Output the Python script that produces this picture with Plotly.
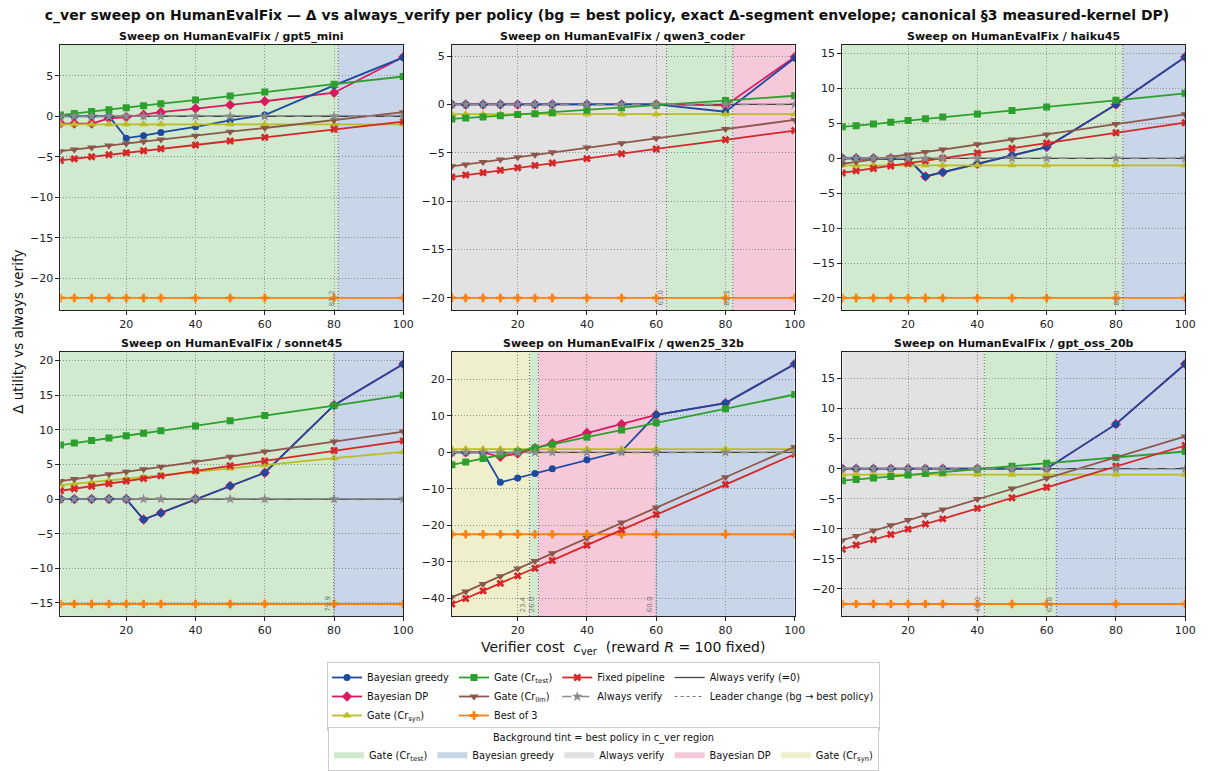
import plotly.graph_objects as go

# ---------------------------------------------------------------------------
# Data: Δ utility vs always_verify, HumanEvalFix, reward R = 100
# ---------------------------------------------------------------------------
C_VER = [1, 5, 10, 15, 20, 25, 30, 40, 50, 60, 80, 100]

# gpt5_mini
GPT5_MINI_GREEDY = [0.0, 0.0, 0.0, 0.0, -2.7, -2.4, -2.0, -1.3, -0.5, 0.15, 3.8, 7.25]
GPT5_MINI_DP = [-0.9, -0.9, -0.9, -0.25, -0.1, 0.2, 0.5, 0.95, 1.4, 1.85, 2.9, 7.3]
GPT5_MINI_SYN = [-1.0, -1.0, -1.0, -1.0, -1.0, -1.0, -1.0, -1.0, -1.0, -1.0, -1.0, -1.0]
GPT5_MINI_TEST = [0.15, 0.35, 0.6, 0.8, 1.05, 1.3, 1.55, 2.0, 2.5, 3.0, 3.95, 4.9]
GPT5_MINI_LLM = [-4.3, -4.1, -3.85, -3.6, -3.35, -3.1, -2.85, -2.4, -1.9, -1.45, -0.5, 0.5]
GPT5_MINI_BEST3 = [-22.4, -22.4, -22.4, -22.4, -22.4, -22.4, -22.4, -22.4, -22.4, -22.4, -22.4, -22.4]
GPT5_MINI_FIXED = [-5.45, -5.25, -5.0, -4.75, -4.5, -4.25, -4.0, -3.55, -3.05, -2.6, -1.6, -0.65]
GPT5_MINI_LEADERS = [81.2]
GPT5_MINI_BG = ["test", "greedy"]

# qwen3_coder
QWEN3_CODER_GREEDY = [0.0, 0.0, 0.0, 0.0, 0.0, 0.0, 0.0, 0.0, 0.0, 0.0, -0.75, 4.8]
QWEN3_CODER_DP = [0.0, 0.0, 0.0, 0.0, 0.0, 0.0, 0.0, 0.0, 0.0, 0.0, -0.1, 4.9]
QWEN3_CODER_SYN = [-1.0, -1.0, -1.0, -1.0, -1.0, -1.0, -1.0, -1.0, -1.0, -1.0, -1.0, -1.0]
QWEN3_CODER_TEST = [-1.5, -1.4, -1.3, -1.18, -1.05, -0.95, -0.85, -0.6, -0.33, -0.07, 0.4, 0.9]
QWEN3_CODER_LLM = [-6.4, -6.2, -5.95, -5.7, -5.45, -5.2, -4.95, -4.45, -4.0, -3.5, -2.55, -1.6]
QWEN3_CODER_BEST3 = [-20.0, -20.0, -20.0, -20.0, -20.0, -20.0, -20.0, -20.0, -20.0, -20.0, -20.0, -20.0]
QWEN3_CODER_FIXED = [-7.5, -7.3, -7.05, -6.8, -6.55, -6.3, -6.05, -5.6, -5.1, -4.6, -3.65, -2.7]
QWEN3_CODER_LEADERS = [63.0, 82.1]
QWEN3_CODER_BG = ["always", "test", "dp"]

# haiku45
HAIKU45_GREEDY = [0.0, 0.0, 0.0, 0.0, -0.1, -2.6, -2.0, -0.8, 0.4, 1.6, 7.7, 14.5]
HAIKU45_DP = [0.0, 0.0, 0.0, 0.0, -0.1, -2.6, -2.0, -0.8, 0.4, 1.6, 7.7, 14.5]
HAIKU45_SYN = [-1.0, -1.0, -1.0, -1.0, -1.0, -1.0, -1.0, -1.0, -1.0, -1.0, -1.0, -1.0]
HAIKU45_TEST = [4.5, 4.65, 4.9, 5.15, 5.4, 5.65, 5.9, 6.35, 6.85, 7.35, 8.3, 9.3]
HAIKU45_LLM = [-0.8, -0.5, -0.15, 0.2, 0.55, 0.9, 1.25, 2.0, 2.7, 3.4, 4.9, 6.3]
HAIKU45_BEST3 = [-20.0, -20.0, -20.0, -20.0, -20.0, -20.0, -20.0, -20.0, -20.0, -20.0, -20.0, -20.0]
HAIKU45_FIXED = [-2.1, -1.8, -1.45, -1.1, -0.7, -0.35, 0.0, 0.75, 1.45, 2.2, 3.65, 5.1]
HAIKU45_LEADERS = [82.0]
HAIKU45_BG = ["test", "greedy"]

# sonnet45
SONNET45_GREEDY = [0.0, 0.0, 0.0, 0.0, 0.0, -2.95, -2.0, 0.0, 1.9, 3.8, 13.55, 19.5]
SONNET45_DP = [0.0, 0.0, 0.0, 0.0, 0.0, -2.95, -2.0, 0.0, 1.9, 3.8, 13.55, 19.5]
SONNET45_SYN = [2.0, 2.2, 2.4, 2.65, 2.9, 3.15, 3.4, 3.9, 4.4, 4.9, 5.9, 6.8]
SONNET45_TEST = [7.8, 8.1, 8.45, 8.8, 9.15, 9.5, 9.85, 10.55, 11.3, 12.05, 13.5, 15.0]
SONNET45_LLM = [2.6, 2.9, 3.25, 3.6, 3.95, 4.3, 4.65, 5.4, 6.1, 6.85, 8.3, 9.75]
SONNET45_BEST3 = [-15.15, -15.15, -15.15, -15.15, -15.15, -15.15, -15.15, -15.15, -15.15, -15.15, -15.15, -15.15]
SONNET45_FIXED = [1.2, 1.5, 1.85, 2.2, 2.6, 2.95, 3.35, 4.1, 4.8, 5.5, 7.0, 8.4]
SONNET45_LEADERS = [79.9]
SONNET45_BG = ["test", "greedy"]

# qwen25_32b
QWEN25_32B_GREEDY = [0.0, 0.0, 0.0, -8.2, -7.0, -5.8, -4.5, -2.0, 0.3, 10.3, 13.5, 24.2]
QWEN25_32B_DP = [0.0, 0.0, 0.0, -1.2, -0.3, 1.15, 2.45, 5.3, 7.7, 10.3, 13.5, 24.2]
QWEN25_32B_SYN = [0.9, 0.9, 0.9, 0.9, 0.9, 0.9, 0.9, 0.9, 0.9, 0.9, 0.9, 0.9]
QWEN25_32B_TEST = [-3.4, -2.65, -1.7, -0.7, 0.2, 1.2, 2.2, 4.15, 6.1, 8.1, 11.95, 15.85]
QWEN25_32B_LLM = [-39.6, -38.1, -36.0, -33.9, -31.8, -29.7, -27.6, -23.4, -19.2, -15.1, -6.8, 1.5]
QWEN25_32B_BEST3 = [-22.4, -22.4, -22.4, -22.4, -22.4, -22.4, -22.4, -22.4, -22.4, -22.4, -22.4, -22.4]
QWEN25_32B_FIXED = [-41.5, -40.0, -37.9, -35.85, -33.8, -31.7, -29.6, -25.4, -21.2, -17.0, -8.8, -0.5]
QWEN25_32B_LEADERS = [23.4, 26.0, 60.0]
QWEN25_32B_BG = ["syn", "test", "dp", "greedy"]

# gpt_oss_20b
GPT_OSS_20B_GREEDY = [0.0, 0.0, 0.0, 0.0, 0.0, 0.0, 0.0, 0.0, 0.0, 0.0, 7.4, 17.4]
GPT_OSS_20B_DP = [0.0, 0.0, 0.0, 0.0, 0.0, 0.0, 0.0, 0.0, 0.0, 0.0, 7.4, 17.4]
GPT_OSS_20B_SYN = [-1.0, -1.0, -1.0, -1.0, -1.0, -1.0, -1.0, -1.0, -1.0, -1.0, -1.0, -1.0]
GPT_OSS_20B_TEST = [-2.0, -1.8, -1.56, -1.31, -1.07, -0.82, -0.58, -0.1, 0.4, 0.89, 1.87, 2.85]
GPT_OSS_20B_LLM = [-11.9, -11.2, -10.3, -9.4, -8.55, -7.65, -6.8, -5.05, -3.3, -1.6, 1.9, 5.35]
GPT_OSS_20B_BEST3 = [-22.5, -22.5, -22.5, -22.5, -22.5, -22.5, -22.5, -22.5, -22.5, -22.5, -22.5, -22.5]
GPT_OSS_20B_FIXED = [-13.4, -12.7, -11.8, -10.95, -10.05, -9.2, -8.35, -6.6, -4.85, -3.1, 0.4, 3.85]
GPT_OSS_20B_LEADERS = [42.0, 62.8]
GPT_OSS_20B_BG = ["always", "test", "greedy"]

ALWAYS_VERIFY = [0.0, 0.0, 0.0, 0.0, 0.0, 0.0, 0.0, 0.0, 0.0, 0.0, 0.0, 0.0]

MODEL_NAMES = ["gpt5_mini", "qwen3_coder", "haiku45", "sonnet45", "qwen25_32b", "gpt_oss_20b"]
Y_DTICK = [5, 5, 5, 5, 10, 5]

PANELS = [
    dict(greedy=GPT5_MINI_GREEDY, dp=GPT5_MINI_DP, syn=GPT5_MINI_SYN, test=GPT5_MINI_TEST,
         llm=GPT5_MINI_LLM, best3=GPT5_MINI_BEST3, fixed=GPT5_MINI_FIXED,
         leaders=GPT5_MINI_LEADERS, bg=GPT5_MINI_BG),
    dict(greedy=QWEN3_CODER_GREEDY, dp=QWEN3_CODER_DP, syn=QWEN3_CODER_SYN, test=QWEN3_CODER_TEST,
         llm=QWEN3_CODER_LLM, best3=QWEN3_CODER_BEST3, fixed=QWEN3_CODER_FIXED,
         leaders=QWEN3_CODER_LEADERS, bg=QWEN3_CODER_BG),
    dict(greedy=HAIKU45_GREEDY, dp=HAIKU45_DP, syn=HAIKU45_SYN, test=HAIKU45_TEST,
         llm=HAIKU45_LLM, best3=HAIKU45_BEST3, fixed=HAIKU45_FIXED,
         leaders=HAIKU45_LEADERS, bg=HAIKU45_BG),
    dict(greedy=SONNET45_GREEDY, dp=SONNET45_DP, syn=SONNET45_SYN, test=SONNET45_TEST,
         llm=SONNET45_LLM, best3=SONNET45_BEST3, fixed=SONNET45_FIXED,
         leaders=SONNET45_LEADERS, bg=SONNET45_BG),
    dict(greedy=QWEN25_32B_GREEDY, dp=QWEN25_32B_DP, syn=QWEN25_32B_SYN, test=QWEN25_32B_TEST,
         llm=QWEN25_32B_LLM, best3=QWEN25_32B_BEST3, fixed=QWEN25_32B_FIXED,
         leaders=QWEN25_32B_LEADERS, bg=QWEN25_32B_BG),
    dict(greedy=GPT_OSS_20B_GREEDY, dp=GPT_OSS_20B_DP, syn=GPT_OSS_20B_SYN, test=GPT_OSS_20B_TEST,
         llm=GPT_OSS_20B_LLM, best3=GPT_OSS_20B_BEST3, fixed=GPT_OSS_20B_FIXED,
         leaders=GPT_OSS_20B_LEADERS, bg=GPT_OSS_20B_BG),
]

# ---------------------------------------------------------------------------
# Styles
# ---------------------------------------------------------------------------
FONT = "DejaVu Sans"
W, H = 1214, 771

# key: (legend label, colour, marker symbol, marker size, legend rank, legend group)
SERIES = {
    "greedy": ("Bayesian greedy", "#1b4a9e", "circle", 7, 1, "g1"),
    "dp": ("Bayesian DP", "#d81b60", "diamond", 8, 2, "g1"),
    "syn": ("Gate (Cr<sub>syn</sub>)", "#bcbd22", "triangle-up", 8, 3, "g1"),
    "test": ("Gate (Cr<sub>test</sub>)", "#2ca02c", "square", 7, 4, "g2"),
    "llm": ("Gate (Cr<sub>llm</sub>)", "#8c564b", "triangle-down", 8, 5, "g2"),
    "best3": ("Best of 3", "#ff7f0e", "cross", 7, 6, "g2"),
    "fixed": ("Fixed pipeline", "#d62728", "x", 7, 7, "g3"),
}
DRAW_ORDER = ["dp", "greedy", "syn", "test", "llm", "best3", "fixed"]

BG_TINT = {
    "test": ("Gate (Cr<sub>test</sub>)", "#d0e9cf"),
    "greedy": ("Bayesian greedy", "#c9d5e8"),
    "always": ("Always verify", "#e2e2e2"),
    "dp": ("Bayesian DP", "#f5c8da"),
    "syn": ("Gate (Cr<sub>syn</sub>)", "#f0efcc"),
}
BG_LEGEND_ORDER = ["test", "greedy", "always", "dp", "syn"]

# panel placement in pixels (left, right, top, bottom)
COL_PX = [(61, 407), (456, 802), (850, 1196)]
ROW_PX = [(45, 310), (352, 616)]

DOT = "1px,2px"
LEGEND_FONT = dict(family=FONT, size=9.8, color="#111")

fig = go.Figure()

for i, (name, panel) in enumerate(zip(MODEL_NAMES, PANELS)):
    r, c = divmod(i, 3)
    n = i + 1
    xa = "x" if n == 1 else f"x{n}"
    ya = "y" if n == 1 else f"y{n}"
    first = i == 0

    # axis ranges: 5 % padding around the data extent
    all_vals = [v for k in SERIES for v in panel[k]] + ALWAYS_VERIFY
    lo, hi = min(all_vals), max(all_vals)
    pad = 0.05 * (hi - lo)

    x0p, x1p = COL_PX[c]
    y0p, y1p = ROW_PX[r]
    axis_common = dict(
        showline=True, mirror=True, linecolor="#222", linewidth=1,
        ticks="outside", ticklen=4, tickcolor="#222",
        showgrid=True, gridcolor="#8f8f8f", griddash=DOT, gridwidth=0.8,
        zeroline=False, tickfont=dict(family=FONT, size=11, color="#222"),
    )
    fig.update_layout({
        f"xaxis{'' if n == 1 else n}": dict(
            domain=[x0p / W, x1p / W], anchor=ya, range=[C_VER[0], C_VER[-1]],
            tick0=0, dtick=20, **axis_common),
        f"yaxis{'' if n == 1 else n}": dict(
            domain=[1 - y1p / H, 1 - y0p / H], anchor=xa, range=[lo - pad, hi + pad],
            tick0=0, dtick=Y_DTICK[i], **axis_common),
    })

    # background tint per best-policy region
    edges = [C_VER[0]] + panel["leaders"] + [C_VER[-1]]
    for (a, b), key in zip(zip(edges[:-1], edges[1:]), panel["bg"]):
        fig.add_shape(type="rect", xref=xa, yref=f"{ya} domain", x0=a, x1=b, y0=0, y1=1,
                      fillcolor=BG_TINT[key][1], line=dict(width=0), layer="below")

    # leader change markers
    for xv in panel["leaders"]:
        fig.add_shape(type="line", xref=xa, yref=f"{ya} domain", x0=xv, x1=xv, y0=0, y1=1,
                      line=dict(color="#555", width=0.9, dash=DOT), layer="above")
        fig.add_annotation(xref=xa, yref=f"{ya} domain", x=xv, y=0, text=f"{xv:.1f}",
                           textangle=-90, xanchor="right", yanchor="bottom", yshift=2,
                           showarrow=False, font=dict(family=FONT, size=7, color="#777"))

    # always-verify baseline (=0)
    fig.add_trace(go.Scatter(
        x=[C_VER[0], C_VER[-1]], y=[ALWAYS_VERIFY[0], ALWAYS_VERIFY[-1]], mode="lines",
        line=dict(color="#444", width=1.3), name="Always verify (=0)",
        legendgroup="g4", legendrank=9, showlegend=first, xaxis=xa, yaxis=ya,
        hoverinfo="skip"))

    for key in DRAW_ORDER:
        label, color, sym, size, rank, grp = SERIES[key]
        fig.add_trace(go.Scatter(
            x=C_VER, y=panel[key], mode="lines+markers", name=label,
            line=dict(color=color, width=1.8),
            marker=dict(symbol=sym, size=size, color=color),
            legendgroup=grp, legendrank=rank, showlegend=first, xaxis=xa, yaxis=ya))

    fig.add_trace(go.Scatter(
        x=C_VER, y=ALWAYS_VERIFY, mode="lines+markers", name="Always verify",
        line=dict(color="#8a8a8a", width=1.5, dash="dash"),
        marker=dict(symbol="star", size=8, color="#8a8a8a"),
        legendgroup="g3", legendrank=8, showlegend=first, xaxis=xa, yaxis=ya))

    # panel title
    fig.add_annotation(xref="paper", yref="paper", x=(x0p + x1p) / 2 / W,
                       y=1 - (y0p - 9) / H, text=f"<b>Sweep on HumanEvalFix / {name}</b>",
                       showarrow=False, xanchor="center", yanchor="middle",
                       font=dict(family=FONT, size=11, color="#111"))

# legend-only entry for leader-change lines
fig.add_trace(go.Scatter(
    x=[None], y=[None], mode="lines", name="Leader change (bg \u2192 best policy)",
    line=dict(color="#666", width=0.9, dash="dot"),
    legendgroup="g4", legendrank=10, showlegend=True, xaxis="x", yaxis="y"))

# legend-only swatches for background tints
for k, key in enumerate(BG_LEGEND_ORDER):
    label, color = BG_TINT[key]
    fig.add_trace(go.Scatter(
        x=[None], y=[None], mode="none", fill="toself", fillcolor=color, name=label,
        legend="legend2", legendrank=k + 1, showlegend=True, xaxis="x", yaxis="y"))

# shared axis titles
fig.add_annotation(xref="paper", yref="paper", x=(COL_PX[1][0] + COL_PX[1][1]) / 2 / W,
                   y=1 - 648 / H, showarrow=False, xanchor="center", yanchor="middle",
                   text="Verifier cost  <i>c</i><sub>ver</sub>  (reward <i>R</i> = 100 fixed)",
                   font=dict(family=FONT, size=14, color="#111"))
fig.add_annotation(xref="paper", yref="paper", x=18 / W, y=1 - 332 / H, showarrow=False,
                   textangle=-90, xanchor="center", yanchor="middle",
                   text="\u0394 utility vs always verify",
                   font=dict(family=FONT, size=13.5, color="#111"))

fig.update_layout(
    width=W, height=H,
    margin=dict(l=0, r=0, t=0, b=0),
    paper_bgcolor="white", plot_bgcolor="white",
    font=dict(family=FONT, color="#111"),
    title=dict(
        text="c_ver sweep on HumanEvalFix \u2014 \u0394 vs always_verify per policy "
             "(bg = best policy, exact \u0394-segment envelope; canonical \u00a73 measured-kernel DP)",
        x=0.5, xanchor="center", y=1 - 15 / H, yanchor="middle",
        font=dict(family=FONT, size=14, color="#111", weight="bold")),
    legend=dict(
        orientation="h", traceorder="grouped", x=609 / W, xanchor="center",
        y=1 - 662 / H, yanchor="top", bgcolor="white", bordercolor="#cccccc",
        borderwidth=1, tracegroupgap=10, itemwidth=30, font=LEGEND_FONT),
    legend2=dict(
        orientation="h", x=609 / W, xanchor="center", y=1 - 727 / H, yanchor="top",
        bgcolor="white", bordercolor="#cccccc", borderwidth=1, itemwidth=30,
        title=dict(text="Background tint = best policy in c_ver region", side="top center",
                   font=LEGEND_FONT),
        font=LEGEND_FONT),
    showlegend=True,
)

fig.write_html("out.html")
